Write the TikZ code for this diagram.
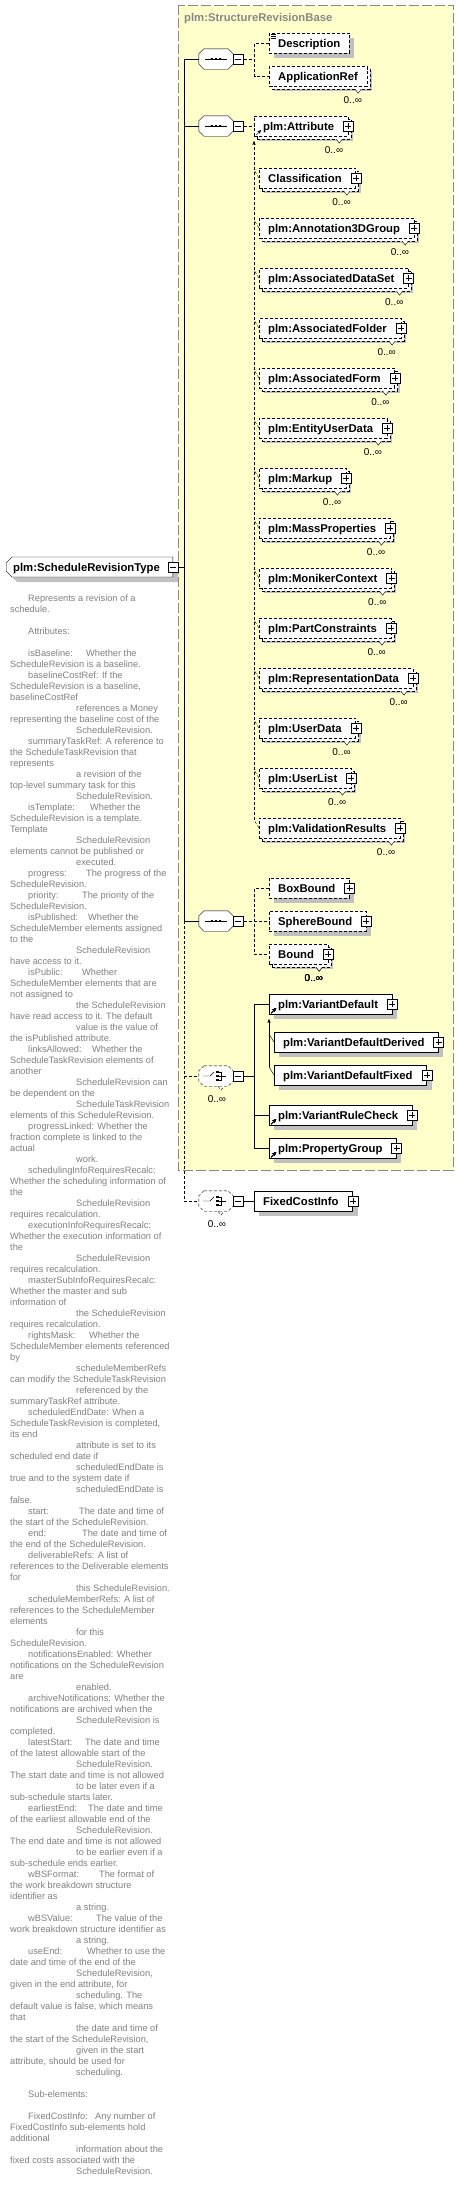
\documentclass[tikz,border=0pt]{standalone}
\usepackage{fontspec}
\setmainfont{Liberation Sans}
\usetikzlibrary{calc}
\usetikzlibrary{arrows}
\usetikzlibrary{shapes.misc}
\usepackage{xcolor}

\definecolor{basefill}{RGB}{255,255,204}
\definecolor{basebd}{RGB}{136,136,136}
\definecolor{shd}{RGB}{192,192,192}
\definecolor{doc}{RGB}{128,128,128}

\tikzset{
  elbox/.style={draw, fill=white, anchor=west, minimum height=20pt, inner xsep=9pt, inner ysep=0pt,
    text height=9pt, text depth=1pt, font=\fontsize{11.3}{13}\selectfont\bfseries},
  optl/.style={dash pattern=on 3pt off 2pt},
  shdw/.style={preaction={fill=shd, draw=none, transform canvas={shift={(5pt,-5pt)}}}},
  twin/.style={preaction={draw, solid, fill=white, transform canvas={shift={(3pt,-3pt)}}}},
  opttwin/.style={preaction={draw, dash pattern=on 3pt off 2pt, fill=white, transform canvas={shift={(3pt,-3pt)}}}},
  octo/.style={minimum width=34pt, minimum height=20pt, inner sep=0pt},
  mbox/.style={draw, solid, fill=white, minimum size=10pt, inner sep=0pt,
    path picture={\draw ([xshift=2pt]path picture bounding box.west) -- ([xshift=-2pt]path picture bounding box.east);}},
  pbox/.style={draw, solid, fill=white, minimum size=10pt, inner sep=0pt,
    path picture={\draw ([xshift=2pt]path picture bounding box.west) -- ([xshift=-2pt]path picture bounding box.east)
      ([yshift=2pt]path picture bounding box.south) -- ([yshift=-2pt]path picture bounding box.north);}},
  mult/.style={font=\fontsize{10}{12}\selectfont, inner sep=0pt},
  dtext/.style={anchor=base west, inner sep=0pt, text=doc, font=\fontsize{9.25}{11}\selectfont}
}

% octagon outline of a compositor node
\newcommand\octpath[1]{($(#1.north west)+(5,0)$) -- ($(#1.north east)+(-5,0)$) -- ($(#1.north east)+(0,5)$)
  -- ($(#1.south east)+(0,-5)$) -- ($(#1.south east)+(-5,0)$) -- ($(#1.south west)+(5,0)$)
  -- ($(#1.south west)+(0,-5)$) -- ($(#1.north west)+(0,5)$) -- cycle}
% plus box, multiplicity and reference marks of an element
\newcommand\plusmark[1]{\node[pbox] (#1p) at (#1.east) {};}
\newcommand\manymark[1]{%
  \draw[fill=white, solid] ($(#1.south east)+(-12,3)$) -- ++(3,4) -- ++(3,-4);
  \node[mult, anchor=east] (#1m) at ($(#1.south east)+(-5,14)$) {0..∞};}
\newcommand\refmark[1]{\draw[->, >=stealth', solid] ($(#1.south west)+(2,-1)$) -- ++(5,-5);}

% documentation lines
\newcounter{dl}
\newcommand\dl[2]{\stepcounter{dl}\node[dtext] (dl\arabic{dl}) at (#1,{601+11*\arabic{dl}-11}) {#2};}
\newcommand\dlt[4]{\stepcounter{dl}\node[dtext] (dl\arabic{dl}) at (#1,{601+11*\arabic{dl}-11}) {#2};
  \node[dtext] (dr\arabic{dl}) at (#3,{601+11*\arabic{dl}-11}) {#4};}
\newcommand\dgap{\stepcounter{dl}}

\begin{document}
\begin{tikzpicture}[x=1pt,y=-1pt]
\useasboundingbox (0,0) rectangle (458,2193);

% base type
\draw[basebd, fill=basefill, dash pattern=on 10pt off 3pt] (178,5) rectangle (453,1170);
\node[anchor=west, inner sep=0pt, text=basebd, font=\fontsize{11.3}{13}\selectfont\bfseries] (basettl) at (184,19) {plm:StructureRevisionBase};

% the complex type
\node[elbox, chamfered rectangle, chamfered rectangle corners={north west,south west},
  chamfered rectangle xsep=3pt, chamfered rectangle ysep=3pt, inner xsep=4pt, shdw] (srt) at (6,567) {plm:ScheduleRevisionType\hspace*{6pt}};
\node[mbox] (srtm) at (srt.east) {};

% compositors
\node[octo] (s1) at (216,59) {};
\node[octo] (s2) at (216,126) {};
\node[octo] (s3) at (216,921) {};
\node[octo] (ch1) at (216,1076) {};
\node[octo] (ch2) at (216,1201) {};
\foreach \s in {s1,s2,s3,ch1,ch2} {
  \fill[shd, shift={(5,5)}] \octpath{\s};
}
\foreach \s in {s1,s2,s3} {
  \draw[fill=white] \octpath{\s};
  \draw ($(\s)+(-11,0)$) -- ($(\s)+(11,0)$);
  \foreach \d in {-4,0,4} \fill ($(\s)+(\d-1.3,-1.3)$) rectangle ++(2.6,2.6);
}
\foreach \s in {ch1,ch2} {
  \draw[fill=white, optl] ($(\s.south)+(2,0)$) -- ++(3,4) -- ++(3,-4);
  \draw[fill=white, optl] \octpath{\s};
  \draw ($(\s)+(-13,0)$) -- ($(\s)+(-6,0)$) -- ($(\s)+(-2,-4)$);
  \foreach \d in {-4,0,4} \fill ($(\s)+(0,\d-1)$) rectangle ++(2.5,2);
  \draw ($(\s)+(2.5,-4)$) -- ($(\s)+(5,-4)$) -- ($(\s)+(5,4)$) -- ($(\s)+(2.5,4)$) ($(\s)+(2.5,0)$) -- ($(\s)+(10,0)$);
  \node[mult] (\s n) at ($(\s.south)+(1,13)$) {0..∞};
}
\foreach \s in {s1,s2,s3,ch1,ch2} {
  \node[mbox, anchor=west] (\s m) at (\s.east) {};
}

% trunk
\coordinate (tr) at (184,0);
\draw (srtm.east) -- (tr |- srtm.east);
\draw (tr |- s1.west) -- (tr |- s3.west);
\draw[optl] (tr |- s3.west) -- (tr |- ch2.west);
\foreach \s in {s1,s2,s3} \draw (tr |- \s.west) -- (\s.west);
\foreach \s in {ch1,ch2} \draw[optl] (tr |- \s.west) -- (\s.west);

% first sequence
\node[elbox, optl, shdw] (desc) at (269,43) {Description};
\draw ($(desc.north west)+(2,1)$) -- ++(5,0) ($(desc.north west)+(2,3)$) -- ++(5,0) ($(desc.north west)+(2,5)$) -- ++(5,0);
\node[elbox, optl, shdw, opttwin] (appref) at (269,76) {ApplicationRef};
\manymark{appref}
\coordinate (j1) at ($(s1m.east)+(11,0)$);
\draw[optl] (s1m.east) -- (j1);
\draw[optl] (desc.west) -| (j1 |- appref.west) -- (appref.west);

% second sequence, substitution group
\node[elbox, optl, shdw, opttwin] (attr) at (254,126) {plm:Attribute\hspace*{5pt}};
\plusmark{attr}
\manymark{attr}
\refmark{attr}
\draw[optl] (s2m.east) -- (attr.west);
\foreach \nm [count=\i] in {Classification, plm:Annotation3DGroup, plm:AssociatedDataSet, plm:AssociatedFolder,
  plm:AssociatedForm, plm:EntityUserData, plm:Markup, plm:MassProperties, plm:MonikerContext,
  plm:PartConstraints, plm:RepresentationData, plm:UserData, plm:UserList, plm:ValidationResults} {
  \node[elbox, optl, shdw, opttwin] (sub\i) at (259,{128+50*\i}) {\nm\hspace*{5pt}};
  \plusmark{sub\i}
  \manymark{sub\i}
  \draw[optl] (sub\i.west) -- ++(-5,-8);
}
\draw[optl, ->, >=stealth'] ($(sub14.west)+(-5,-8)$) -- ($(attr.south west)+(0,5)$);

% third sequence
\node[elbox, optl, shdw] (boxb) at (269,888) {BoxBound\hspace*{5pt}};
\node[elbox, optl, shdw] (sphb) at (269,921) {SphereBound\hspace*{5pt}};
\node[elbox, optl, shdw, opttwin] (bound) at (269,954) {Bound\hspace*{5pt}};
\foreach \n in {boxb,sphb,bound} \plusmark{\n}
\manymark{bound}
\coordinate (j3) at ($(s3m.east)+(11,0)$);
\draw[optl] (s3m.east) -- (sphb.west);
\draw[optl] (boxb.west) -| (j3 |- bound.west) -- (bound.west);

% first choice
\node[elbox, shdw] (vdef) at (269,1004) {plm:VariantDefault\hspace*{5pt}};
\node[elbox, shdw] (vder) at (274,1042) {plm:VariantDefaultDerived\hspace*{5pt}};
\node[elbox, shdw] (vfix) at (274,1075) {plm:VariantDefaultFixed\hspace*{5pt}};
\node[elbox, shdw] (vrule) at (269,1115) {plm:VariantRuleCheck\hspace*{5pt}};
\node[elbox, shdw] (pgrp) at (269,1148) {plm:PropertyGroup\hspace*{5pt}};
\foreach \n in {vdef,vder,vfix,vrule,pgrp} \plusmark{\n}
\foreach \n in {vdef,vrule,pgrp} \refmark{\n}
\coordinate (j4) at ($(ch1m.east)+(11,0)$);
\draw (ch1m.east) -- (j4);
\draw (vdef.west) -| (j4 |- pgrp.west) -- (pgrp.west);
\draw (j4 |- vrule.west) -- (vrule.west);
\foreach \n in {vder,vfix} \draw (\n.west) -- ++(-5,-8);
\draw[->, >=stealth'] ($(vfix.west)+(-5,-8)$) -- ($(vdef.south west)+(0,5)$);

% second choice
\node[elbox, shdw] (fci) at (254,1201) {FixedCostInfo\hspace*{5pt}};
\plusmark{fci}
\draw (ch2m.east) -- (fci.west);

% documentation
\dl{28}{Represents a revision of a}
\dl{10}{schedule.}
\dgap
\dl{28}{Attributes:}
\dgap
\dlt{28}{isBaseline:}{86}{Whether the}
\dl{10}{ScheduleRevision is a baseline.}
\dl{28}{baselineCostRef: If the}
\dl{10}{ScheduleRevision is a baseline,}
\dl{10}{baselineCostRef}
\dl{76}{references a Money}
\dl{10}{representing the baseline cost of the}
\dl{76}{ScheduleRevision.}
\dl{28}{summaryTaskRef: A reference to}
\dl{10}{the ScheduleTaskRevision that}
\dl{10}{represents}
\dl{76}{a revision of the}
\dl{10}{top-level summary task for this}
\dl{76}{ScheduleRevision.}
\dlt{28}{isTemplate:}{90}{Whether the}
\dl{10}{ScheduleRevision is a template.}
\dl{10}{Template}
\dl{76}{ScheduleRevision}
\dl{10}{elements cannot be published or}
\dl{76}{executed.}
\dlt{28}{progress:}{86}{The progress of the}
\dl{10}{ScheduleRevision.}
\dlt{28}{priority:}{82}{The priority of the}
\dl{10}{ScheduleRevision.}
\dlt{28}{isPublished:}{88}{Whether the}
\dl{10}{ScheduleMember elements assigned}
\dl{10}{to the}
\dl{76}{ScheduleRevision}
\dl{10}{have access to it.}
\dlt{28}{isPublic:}{82}{Whether}
\dl{10}{ScheduleMember elements that are}
\dl{10}{not assigned to}
\dl{76}{the ScheduleRevision}
\dl{10}{have read access to it. The default}
\dl{76}{value is the value of}
\dl{10}{the isPublished attribute.}
\dlt{28}{linksAllowed:}{92}{Whether the}
\dl{10}{ScheduleTaskRevision elements of}
\dl{10}{another}
\dl{76}{ScheduleRevision can}
\dl{10}{be dependent on the}
\dl{76}{ScheduleTaskRevision}
\dl{10}{elements of this ScheduleRevision.}
\dl{28}{progressLinked: Whether the}
\dl{10}{fraction complete is linked to the}
\dl{10}{actual}
\dl{76}{work.}
\dl{28}{schedulingInfoRequiresRecalc:}
\dl{10}{Whether the scheduling information of}
\dl{10}{the}
\dl{76}{ScheduleRevision}
\dl{10}{requires recalculation.}
\dl{28}{executionInfoRequiresRecalc:}
\dl{10}{Whether the execution information of}
\dl{10}{the}
\dl{76}{ScheduleRevision}
\dl{10}{requires recalculation.}
\dl{28}{masterSubInfoRequiresRecalc:}
\dl{10}{Whether the master and sub}
\dl{10}{information of}
\dl{76}{the ScheduleRevision}
\dl{10}{requires recalculation.}
\dlt{28}{rightsMask:}{89}{Whether the}
\dl{10}{ScheduleMember elements referenced}
\dl{10}{by}
\dl{76}{scheduleMemberRefs}
\dl{10}{can modify the ScheduleTaskRevision}
\dl{76}{referenced by the}
\dl{10}{summaryTaskRef attribute.}
\dl{28}{scheduledEndDate: When a}
\dl{10}{ScheduleTaskRevision is completed,}
\dl{10}{its end}
\dl{76}{attribute is set to its}
\dl{10}{scheduled end date if}
\dl{76}{scheduledEndDate is}
\dl{10}{true and to the system date if}
\dl{76}{scheduledEndDate is}
\dl{10}{false.}
\dlt{28}{start:}{79}{The date and time of}
\dl{10}{the start of the ScheduleRevision.}
\dlt{28}{end:}{82}{The date and time of}
\dl{10}{the end of the ScheduleRevision.}
\dl{28}{deliverableRefs: A list of}
\dl{10}{references to the Deliverable elements}
\dl{10}{for}
\dl{76}{this ScheduleRevision.}
\dl{28}{scheduleMemberRefs: A list of}
\dl{10}{references to the ScheduleMember}
\dl{10}{elements}
\dl{76}{for this}
\dl{10}{ScheduleRevision.}
\dl{28}{notificationsEnabled: Whether}
\dl{10}{notifications on the ScheduleRevision}
\dl{10}{are}
\dl{76}{enabled.}
\dl{28}{archiveNotifications: Whether the}
\dl{10}{notifications are archived when the}
\dl{76}{ScheduleRevision is}
\dl{10}{completed.}
\dlt{28}{latestStart:}{85}{The date and time}
\dl{10}{of the latest allowable start of the}
\dl{76}{ScheduleRevision.}
\dl{10}{The start date and time is not allowed}
\dl{76}{to be later even if a}
\dl{10}{sub-schedule starts later.}
\dlt{28}{earliestEnd:}{88}{The date and time}
\dl{10}{of the earliest allowable end of the}
\dl{76}{ScheduleRevision.}
\dl{10}{The end date and time is not allowed}
\dl{76}{to be earlier even if a}
\dl{10}{sub-schedule ends earlier.}
\dlt{28}{wBSFormat:}{99}{The format of}
\dl{10}{the work breakdown structure}
\dl{10}{identifier as}
\dl{76}{a string.}
\dlt{28}{wBSValue:}{96}{The value of the}
\dl{10}{work breakdown structure identifier as}
\dl{76}{a string.}
\dlt{28}{useEnd:}{87}{Whether to use the}
\dl{10}{date and time of the end of the}
\dl{76}{ScheduleRevision,}
\dl{10}{given in the end attribute, for}
\dl{76}{scheduling. The}
\dl{10}{default value is false, which means}
\dl{10}{that}
\dl{76}{the date and time of}
\dl{10}{the start of the ScheduleRevision,}
\dl{76}{given in the start}
\dl{10}{attribute, should be used for}
\dl{76}{scheduling.}
\dgap
\dl{28}{Sub-elements:}
\dgap
\dlt{28}{FixedCostInfo:}{95}{Any number of}
\dl{10}{FixedCostInfo sub-elements hold}
\dl{10}{additional}
\dl{76}{information about the}
\dl{10}{fixed costs associated with the}
\dl{76}{ScheduleRevision.}
\end{tikzpicture}
\end{document}
